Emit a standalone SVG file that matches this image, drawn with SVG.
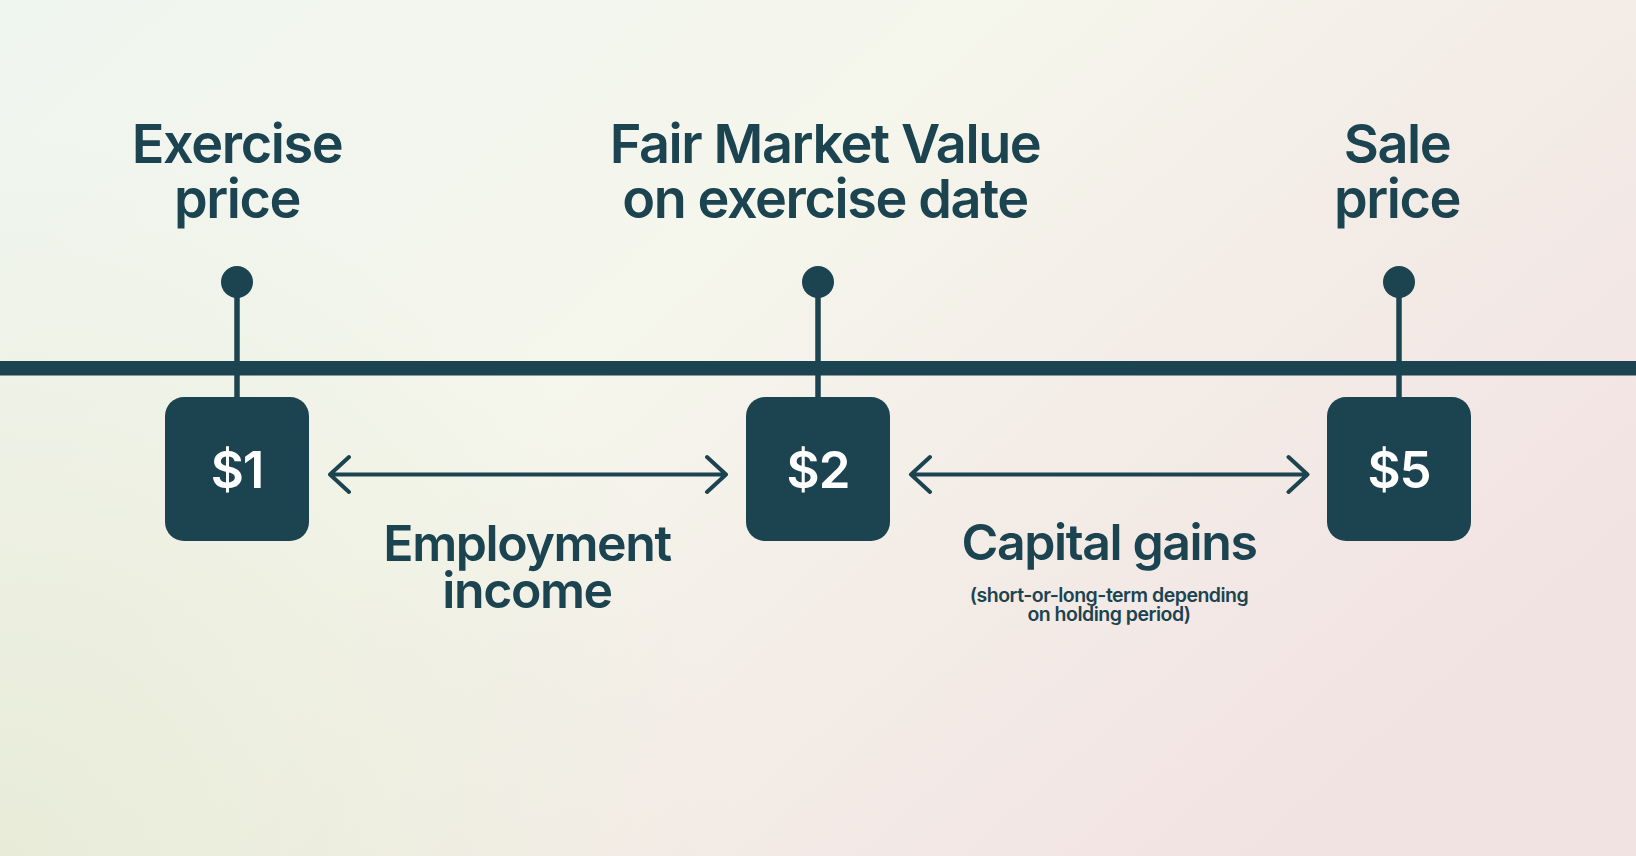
<svg xmlns="http://www.w3.org/2000/svg" width="1636" height="856" viewBox="0 0 1636 856">
  <defs>
    <linearGradient id="bg" x1="0" y1="0" x2="1" y2="0.6">
      <stop offset="0" stop-color="#eff5ef"/>
      <stop offset="0.45" stop-color="#f5f6ec"/>
      <stop offset="0.75" stop-color="#f3ebe6"/>
      <stop offset="1" stop-color="#f2e3e3"/>
    </linearGradient>
    <radialGradient id="bl" cx="0" cy="1" r="0.45" gradientTransform="scale(1 1.9) translate(0 -0.47)">
      <stop offset="0" stop-color="#e6ead6" stop-opacity="0.9"/>
      <stop offset="1" stop-color="#e6ead6" stop-opacity="0"/>
    </radialGradient>
    <style>
      .ink { fill: #1b4350; }
      .t { font-family: Inter, "Liberation Sans", sans-serif; font-weight: 600; fill: #1b4350; text-anchor: middle; }
      .big { font-size: 54px; letter-spacing: -1.4px; }
      .mid { font-size: 50px; letter-spacing: -1.4px; }
      .small { font-size: 19.5px; letter-spacing: -0.5px; }
      .val { font-family: Inter, "Liberation Sans", sans-serif; font-weight: 600; font-size: 51px; fill: #ffffff; text-anchor: middle; letter-spacing: -1px; }
      .stem { stroke: #1b4350; stroke-width: 5.5; }
      .arr { stroke: #1b4350; stroke-width: 4; fill: none; stroke-linecap: round; stroke-linejoin: round; }
    </style>
  </defs>
  <rect width="1636" height="856" fill="url(#bg)"/>
  <rect width="1636" height="856" fill="url(#bl)"/>

  <g id="connectors">
    <rect x="0" y="361" width="1636" height="14.5" class="ink"/>
    <path class="arr" d="M330 474.5 H726 M349 457 L330 474.5 L349 492 M707 457 L726 474.5 L707 492"/>
    <path class="arr" d="M911 474.5 H1307.5 M930 457 L911 474.5 L930 492 M1288.5 457 L1307.5 474.5 L1288.5 492"/>
    <text class="t mid" x="527" y="561">Employment</text>
    <text class="t mid" x="527" y="608">income</text>
    <text class="t mid" x="1109" y="560">Capital gains</text>
    <text class="t small" x="1109" y="601.5">(short-or-long-term depending</text>
    <text class="t small" x="1109" y="620.5">on holding period)</text>
  </g>

  <g id="node-exercise">
    <text class="t big" x="237" y="163">Exercise</text>
    <text class="t big" x="237" y="218">price</text>
    <line class="stem" x1="237" y1="282" x2="237" y2="398"/>
    <circle cx="237" cy="282" r="16" class="ink"/>
    <rect x="165" y="397" width="144" height="144" rx="19" class="ink"/>
    <text class="val" x="237" y="488">$1</text>
  </g>

  <g id="node-fmv">
    <text class="t big" x="825" y="163">Fair Market Value</text>
    <text class="t big" x="825" y="218">on exercise date</text>
    <line class="stem" x1="818" y1="282" x2="818" y2="398"/>
    <circle cx="818" cy="282" r="16" class="ink"/>
    <rect x="746" y="397" width="144" height="144" rx="19" class="ink"/>
    <text class="val" x="818" y="488">$2</text>
  </g>

  <g id="node-sale">
    <text class="t big" x="1397" y="163">Sale</text>
    <text class="t big" x="1397" y="218">price</text>
    <line class="stem" x1="1399" y1="282" x2="1399" y2="398"/>
    <circle cx="1399" cy="282" r="16" class="ink"/>
    <rect x="1327" y="397" width="144" height="144" rx="19" class="ink"/>
    <text class="val" x="1399" y="488">$5</text>
  </g>
</svg>
